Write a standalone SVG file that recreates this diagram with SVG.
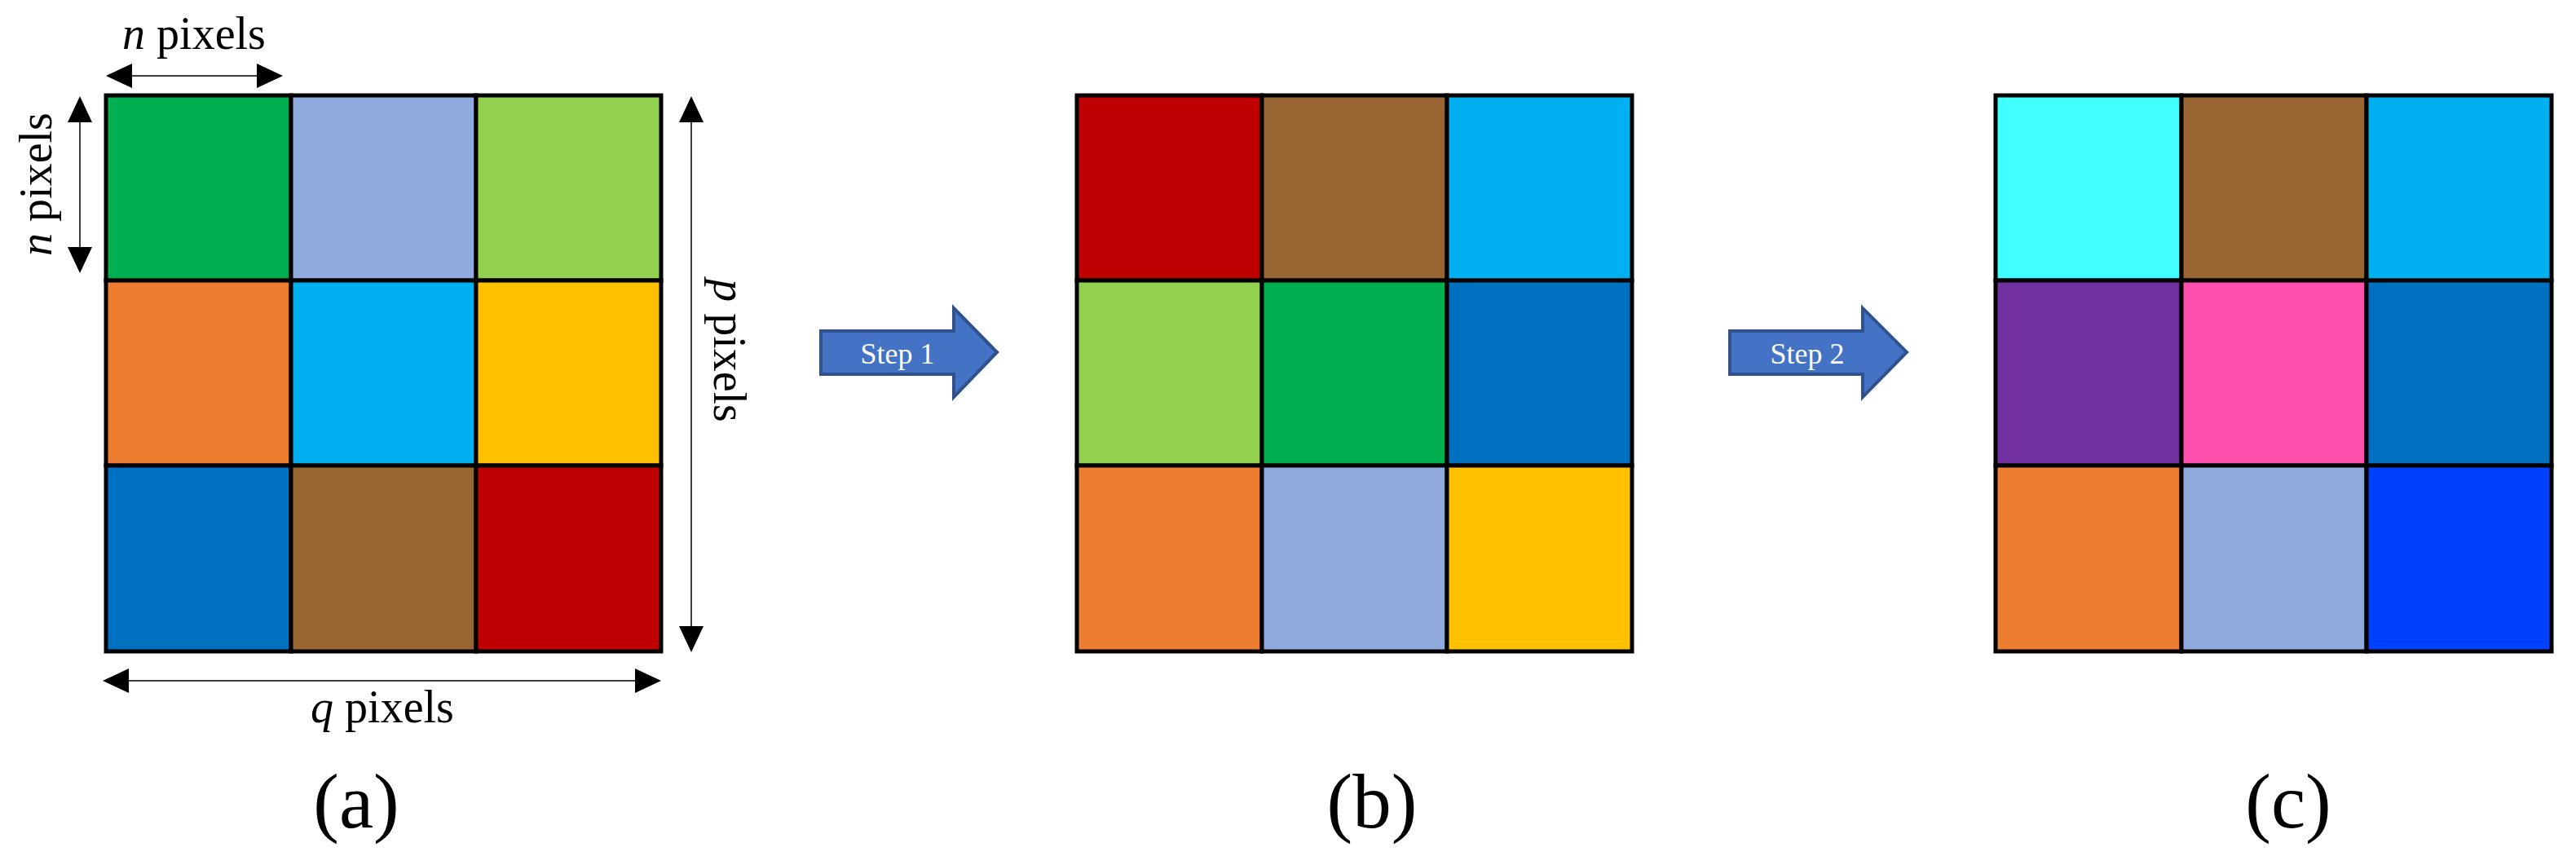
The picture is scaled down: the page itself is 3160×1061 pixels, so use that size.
<svg xmlns="http://www.w3.org/2000/svg" width="3160" height="1061" viewBox="0 0 3160 1061">
<style>
.cell{stroke:#000;stroke-width:5}
.lbl{font-family:"Liberation Serif","Times New Roman",serif;font-size:56px;fill:#000;text-anchor:middle}
.cap{font-family:"Liberation Serif","Times New Roman",serif;font-size:95px;fill:#000;text-anchor:middle}
.step{font-family:"Liberation Serif","Times New Roman",serif;font-size:36px;fill:#fff;text-anchor:middle}
.dim{stroke:#404040;stroke-width:2;fill:none}
.head{fill:#000}
.big{fill:#4472C4;stroke:#2F528F;stroke-width:4;stroke-linejoin:miter}
</style>
<rect width="3160" height="1061" fill="#fff"/>
<g id="grid-a">
<rect class="cell" x="130" y="117" width="227" height="227" fill="#00B050"/>
<rect class="cell" x="357" y="117" width="227" height="227" fill="#8FAADC"/>
<rect class="cell" x="584" y="117" width="227" height="227" fill="#92D050"/>
<rect class="cell" x="130" y="344" width="227" height="227" fill="#ED7D31"/>
<rect class="cell" x="357" y="344" width="227" height="227" fill="#00B0F0"/>
<rect class="cell" x="584" y="344" width="227" height="227" fill="#FFC000"/>
<rect class="cell" x="130" y="571" width="227" height="228" fill="#0070C0"/>
<rect class="cell" x="357" y="571" width="227" height="228" fill="#996633"/>
<rect class="cell" x="584" y="571" width="227" height="228" fill="#C00000"/>
</g>
<g id="grid-b">
<rect class="cell" x="1321" y="117" width="227" height="227" fill="#C00000"/>
<rect class="cell" x="1548" y="117" width="227" height="227" fill="#996633"/>
<rect class="cell" x="1775" y="117" width="227" height="227" fill="#00B0F0"/>
<rect class="cell" x="1321" y="344" width="227" height="227" fill="#92D050"/>
<rect class="cell" x="1548" y="344" width="227" height="227" fill="#00B050"/>
<rect class="cell" x="1775" y="344" width="227" height="227" fill="#0070C0"/>
<rect class="cell" x="1321" y="571" width="227" height="228" fill="#ED7D31"/>
<rect class="cell" x="1548" y="571" width="227" height="228" fill="#8FAADC"/>
<rect class="cell" x="1775" y="571" width="227" height="228" fill="#FFC000"/>
</g>
<g id="grid-c">
<rect class="cell" x="2448" y="117" width="228" height="227" fill="#42FFFF"/>
<rect class="cell" x="2676" y="117" width="227" height="227" fill="#996633"/>
<rect class="cell" x="2903" y="117" width="227" height="227" fill="#00B0F0"/>
<rect class="cell" x="2448" y="344" width="228" height="227" fill="#7030A0"/>
<rect class="cell" x="2676" y="344" width="227" height="227" fill="#FF50AE"/>
<rect class="cell" x="2903" y="344" width="227" height="227" fill="#0070C0"/>
<rect class="cell" x="2448" y="571" width="228" height="228" fill="#ED7D31"/>
<rect class="cell" x="2676" y="571" width="227" height="228" fill="#8FAADC"/>
<rect class="cell" x="2903" y="571" width="227" height="228" fill="#0040FF"/>
</g>
<g id="connectors">
<line class="dim" x1="150" y1="93" x2="327" y2="93"/>
<polygon class="head" points="130,93 162,78 162,108"/>
<polygon class="head" points="347,93 315,78 315,108"/>
<line class="dim" x1="98" y1="138" x2="98" y2="315"/>
<polygon class="head" points="98,118 83,150 113,150"/>
<polygon class="head" points="98,335 83,303 113,303"/>
<line class="dim" x1="848" y1="138" x2="848" y2="780"/>
<polygon class="head" points="848,118 833,150 863,150"/>
<polygon class="head" points="848,800 833,768 863,768"/>
<line class="dim" x1="146" y1="835" x2="791" y2="835"/>
<polygon class="head" points="126,835 158,820 158,850"/>
<polygon class="head" points="811,835 779,820 779,850"/>
</g>
<g id="step1">
<polygon class="big" points="1007,406 1170,406 1170,378 1223,432 1170,487 1170,459 1007,459"/>
<text class="step" x="1101" y="446">Step 1</text>
</g>
<g id="step2">
<polygon class="big" points="2122,406 2285,406 2285,378 2339,432 2285,487 2285,459 2122,459"/>
<text class="step" x="2217" y="446">Step 2</text>
</g>
<g id="labels">
<text class="lbl" x="238" y="60"><tspan font-style="italic">n</tspan> pixels</text>
<text class="lbl" transform="translate(63,226) rotate(-90)"><tspan font-style="italic">n</tspan> pixels</text>
<text class="lbl" transform="translate(876,430) rotate(90)"><tspan font-style="italic">p</tspan> pixels</text>
<text class="lbl" x="469" y="886"><tspan font-style="italic">q</tspan> pixels</text>
<text class="cap" x="437" y="1015">(a)</text>
<text class="cap" x="1683" y="1015">(b)</text>
<text class="cap" x="2807" y="1015">(c)</text>
</g>
</svg>
